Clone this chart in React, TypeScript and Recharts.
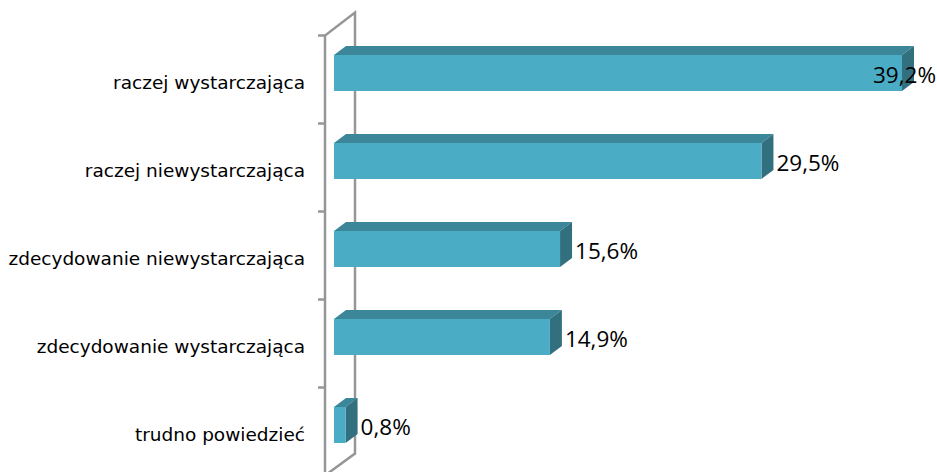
import { BarChart, Bar, XAxis, YAxis, LabelList, usePlotArea } from 'recharts'

const categories = [
  'raczej wystarczająca',
  'raczej niewystarczająca',
  'zdecydowanie niewystarczająca',
  'zdecydowanie wystarczająca',
  'trudno powiedzieć',
]
const values = [39.2, 29.5, 15.6, 14.9, 0.8]

const data = categories.map((name, i) => ({ name, value: values[i] }))

const FRONT = '#4BACC6'
const TOP = '#3B8699'
const SIDE = '#33707F'
const WALL = '#969696'
const WIDTH = 937
const HEIGHT = 472
const DEPTH_X = 12
const DEPTH_Y = 9

function Bar3D({ x, y, width, height }: any) {
  return (
    <g>
      <polygon
        points={`${x},${y} ${x + DEPTH_X},${y - DEPTH_Y} ${x + width + DEPTH_X},${y - DEPTH_Y} ${x + width},${y}`}
        fill={TOP}
      />
      <polygon
        points={`${x + width},${y} ${x + width + DEPTH_X},${y - DEPTH_Y} ${x + width + DEPTH_X},${y + height - DEPTH_Y} ${x + width},${y + height}`}
        fill={SIDE}
      />
      <rect x={x} y={y} width={width} height={height} fill={FRONT} />
    </g>
  )
}

// the grey 3d side wall of the value axis, with tick marks between categories
function Wall() {
  const plot = usePlotArea()
  if (!plot) return null
  const band = plot.height / categories.length
  const front = plot.x - 9
  const back = plot.x + 21
  const top = plot.y + 6.5
  const bottom = top + plot.height
  return (
    <g stroke={WALL} strokeWidth={2.5} fill="none">
      <polyline points={`${front},${bottom} ${front},${top} ${back},${top - 23} ${back},${bottom - 22} ${front},${bottom}`} />
      {categories.map((c, i) => (
        <line key={c} x1={front - 7} x2={front} y1={top + band * i} y2={top + band * i} />
      ))}
    </g>
  )
}

function ValueLabel({ x, y, width, height, value }: any) {
  const text = value.toFixed(1).replace('.', ',') + '%'
  const right = x + width + 15
  const clipped = right + 60 > WIDTH
  return (
    <text
      x={clipped ? WIDTH - 1 : right}
      y={y + height / 2 + 1}
      textAnchor={clipped ? 'end' : 'start'}
      dominantBaseline="central"
      fontFamily="Open Sans"
      fontSize={22.5}
      fill="#000"
    >
      {text}
    </text>
  )
}

export default function App() {
  return (
    <div style={{ position: 'absolute', left: 0, top: 0, width: WIDTH, height: HEIGHT, background: '#fff', overflow: 'hidden' }}>
      <BarChart
        width={WIDTH}
        height={HEIGHT}
        data={data}
        layout="vertical"
        margin={{ top: 29, right: 23.4, bottom: 3, left: 0 }}
      >
        <XAxis type="number" domain={[0, 40]} hide />
        <YAxis
          type="category"
          dataKey="name"
          width={334}
          axisLine={false}
          tickLine={false}
          tickMargin={23}
          interval={0}
          dy={9.5}
          tick={{ fontFamily: 'DejaVu Sans', fontSize: 18.5, fill: '#000' }}
        />
        <Wall />
        <Bar dataKey="value" barSize={36} shape={Bar3D} isAnimationActive={false}>
          <LabelList dataKey="value" content={ValueLabel} />
        </Bar>
      </BarChart>
    </div>
  )
}
